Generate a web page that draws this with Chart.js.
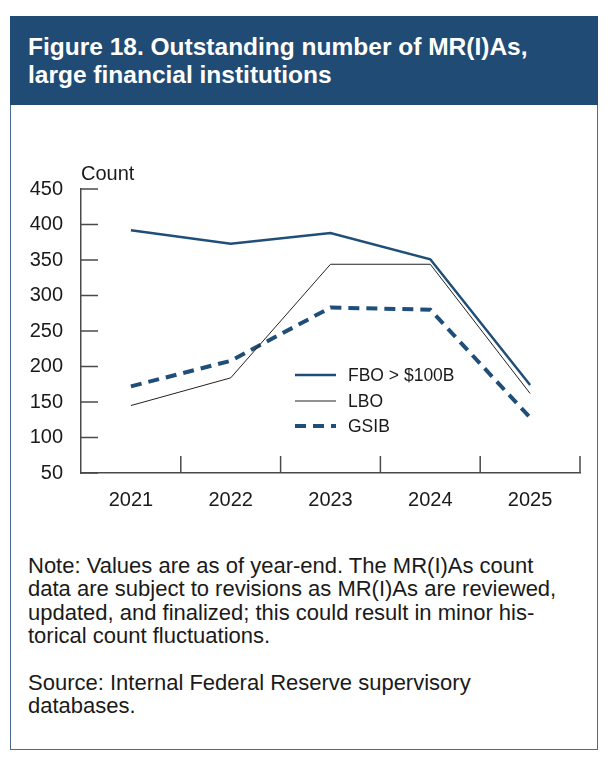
<!DOCTYPE html>
<html>
<head>
<meta charset="utf-8">
<script src="https://cdn.jsdelivr.net/npm/chart.js@4.4.1/dist/chart.umd.min.js"></script>
<style>
  html, body { margin: 0; padding: 0; background: #ffffff; }
  body { width: 610px; height: 762px; position: relative; overflow: hidden; font-family: "Liberation Sans", Arial, sans-serif; }
  #frame { position: absolute; left: 10px; top: 16px; width: 588px; height: 734px; box-sizing: border-box; border: 1.5px solid #4d6c8c; }
  #header { position: absolute; left: 10px; top: 16px; width: 588px; height: 89px; background: #1f4b74; }
  #title { position: absolute; left: 28px; top: 32.5px; color: #ffffff; font-weight: bold; font-size: 24.5px; line-height: 28px; white-space: nowrap; }
  .note { position: absolute; left: 28px; color: #1a1a1a; font-size: 22px; line-height: 23.5px; white-space: nowrap; }
  #chartbox { position: absolute; left: 0; top: 140px; width: 610px; height: 400px; }
</style>
</head>
<body>
<div id="frame"></div>
<div id="header"></div>
<div id="title">Figure 18. Outstanding number of MR(I)As,<br>large financial institutions</div>
<div id="chartbox"><canvas id="c" width="610" height="400"></canvas></div>
<div class="note" style="top:553.5px;">Note: Values are as of year-end. The MR(I)As count<br>data are subject to revisions as MR(I)As are reviewed,<br>updated, and finalized; this could result in minor his-<br>torical count fluctuations.</div>
<div class="note" style="top:670.5px;">Source: Internal Federal Reserve supervisory<br>databases.</div>
<script>
const categories = ['2021', '2022', '2023', '2024', '2025'];
const fboValues  = [392, 373, 388, 351, 174];
const lboValues  = [145, 184, 344, 344, 162];
const gsibValues = [172, 208, 283, 280, 128];
const yTickValues = [50, 100, 150, 200, 250, 300, 350, 400, 450];
const seriesLabels = ['FBO > $100B', 'LBO', 'GSIB'];

const BLUE = '#1f4e79';
const AXIS = '#4a4a4a';
const TXT = '#1a1a1a';
const FONT = '"Liberation Sans", Arial, sans-serif';

const decorations = {
  id: 'decorations',
  afterDraw(chart) {
    const {ctx, chartArea} = chart;
    const xs = chart.scales.x, ys = chart.scales.y;
    ctx.save();
    ctx.strokeStyle = AXIS;
    ctx.lineWidth = 1.5;
    // inward y ticks
    ys.ticks.forEach(t => {
      const y = ys.getPixelForValue(t.value);
      ctx.beginPath();
      ctx.moveTo(chartArea.left, y);
      ctx.lineTo(chartArea.left + 17, y);
      ctx.stroke();
    });
    // upward x ticks at category boundaries
    const half = (xs.getPixelForValue(1) - xs.getPixelForValue(0)) / 2;
    categories.forEach((c, i) => {
      const x = xs.getPixelForValue(i) + half;
      ctx.beginPath();
      ctx.moveTo(x, chartArea.bottom);
      ctx.lineTo(x, chartArea.bottom - 17);
      ctx.stroke();
    });
    // "Count" label
    ctx.fillStyle = TXT;
    ctx.font = '20px ' + FONT;
    ctx.textAlign = 'left';
    ctx.textBaseline = 'alphabetic';
    ctx.fillText('Count', chartArea.left, chartArea.top - 9);
    // legend
    const rows = [186, 212, 237];
    chart.data.datasets.forEach((ds, i) => {
      const y = chartArea.top + rows[i];
      ctx.beginPath();
      ctx.strokeStyle = ds.borderColor;
      ctx.lineWidth = ds.borderWidth;
      ctx.setLineDash(ds.borderDash || []);
      ctx.moveTo(chartArea.left + 214, y);
      ctx.lineTo(chartArea.left + 255, y);
      ctx.stroke();
      ctx.setLineDash([]);
      ctx.fillStyle = TXT;
      ctx.font = '17.5px ' + FONT;
      ctx.textBaseline = 'middle';
      ctx.fillText(ds.label, chartArea.left + 267, y + 1);
    });
    ctx.restore();
  }
};

new Chart(document.getElementById('c'), {
  type: 'line',
  data: {
    labels: categories,
    datasets: [
      { label: seriesLabels[0], data: fboValues, borderColor: BLUE, borderWidth: 2.5, pointRadius: 0, tension: 0, fill: false },
      { label: seriesLabels[1], data: lboValues, borderColor: '#222222', borderWidth: 1, pointRadius: 0, tension: 0, fill: false },
      { label: seriesLabels[2], data: gsibValues, borderColor: BLUE, borderWidth: 4, borderDash: [11, 7], pointRadius: 0, tension: 0, fill: false }
    ]
  },
  options: {
    responsive: false,
    animation: false,
    layout: { padding: { left: 0, right: 30, top: 49, bottom: 0 } },
    plugins: { legend: { display: false }, tooltip: { enabled: false } },
    scales: {
      x: {
        offset: true,
        grid: { display: true, drawOnChartArea: false, drawTicks: false },
        border: { display: true, color: AXIS, width: 1.5 },
        ticks: { color: TXT, font: { family: FONT, size: 20 }, padding: 15, maxRotation: 0 },
        afterFit(scale) { scale.height = 67; }
      },
      y: {
        min: 50, max: 450,
        afterBuildTicks(scale) { scale.ticks = yTickValues.map(v => ({ value: v })); },
        grid: { display: true, drawOnChartArea: false, drawTicks: false },
        border: { display: true, color: AXIS, width: 1.5 },
        ticks: { color: TXT, font: { family: FONT, size: 20 }, padding: 18 },
        afterFit(scale) { scale.width = 81; }
      }
    }
  },
  plugins: [decorations]
});
</script>
</body>
</html>
